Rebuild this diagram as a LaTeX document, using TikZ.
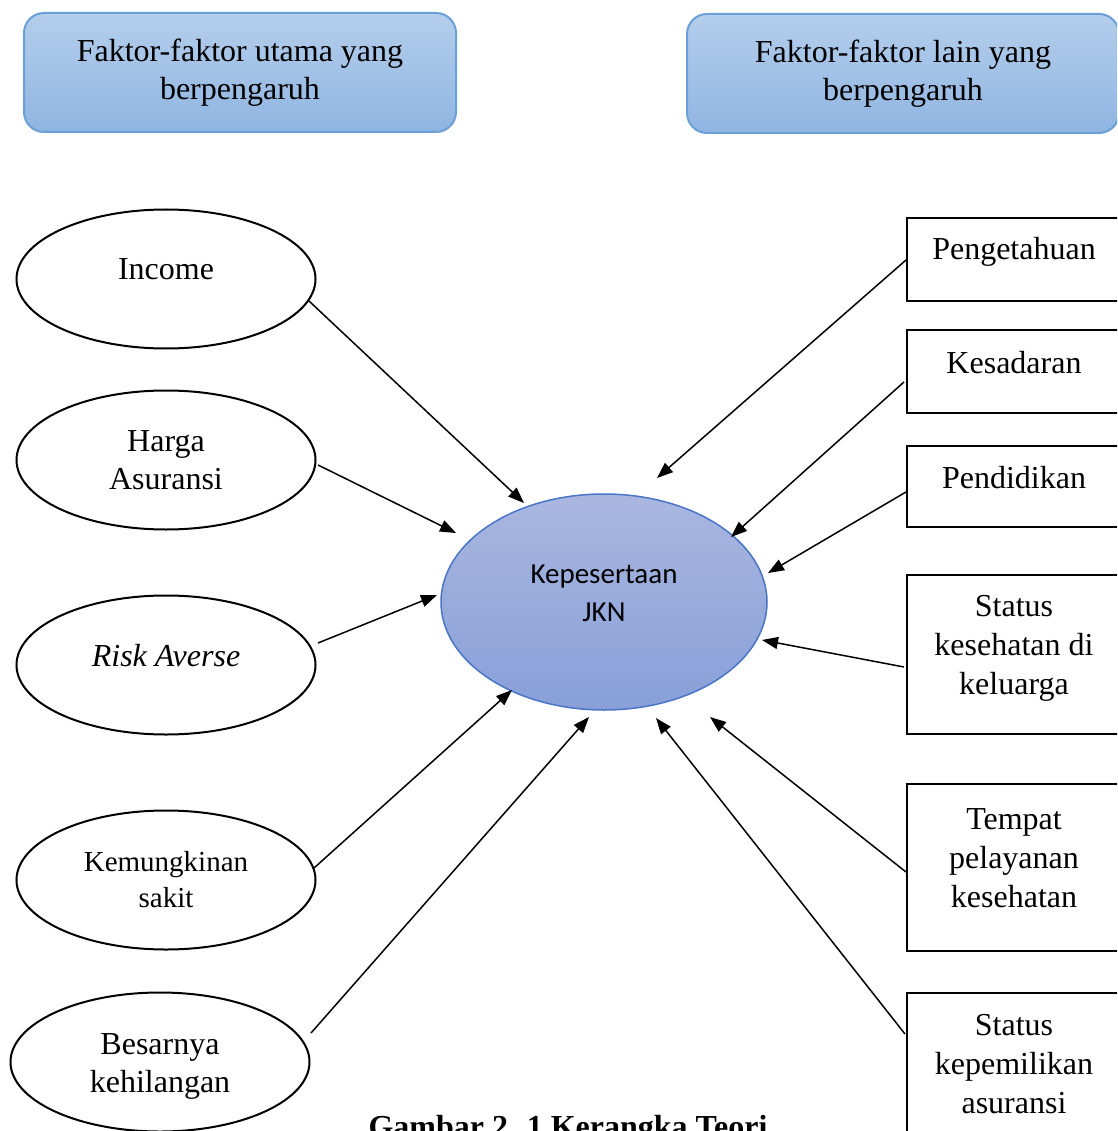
\documentclass[tikz,border=0pt]{standalone}
\usepackage{fontspec}
\setmainfont{Liberation Serif}
\newfontfamily\calib{Carlito}
\usetikzlibrary{arrows.meta,calc,shapes.geometric}
\definecolor{topborder}{HTML}{6A9FD8}
\definecolor{toptop}{HTML}{B4CEEB}
\definecolor{topbot}{HTML}{90B5E2}
\definecolor{cborder}{HTML}{4A74C6}
\definecolor{ctop}{HTML}{A9B7E0}
\definecolor{cbot}{HTML}{889FD8}
\tikzset{
  topbox/.style={draw=topborder, line width=2pt, rounded corners=20pt,
    top color=toptop, bottom color=topbot, minimum width=432pt,
    minimum height=119pt, align=center, font=\fontsize{32}{38}\selectfont},
  ell/.style={ellipse, draw, line width=2pt, minimum width=299pt,
    minimum height=139pt, inner sep=0pt, align=center,
    font=\fontsize{32}{38}\selectfont},
  rbox/.style={rectangle, draw, line width=2pt, minimum width=214pt, inner sep=0pt},
  rtext/.style={align=center, font=\fontsize{32}{39}\selectfont, inner sep=0pt},
  arr/.style={line width=1.5pt, -{Triangle[length=16pt,width=12pt]}}
}
\begin{document}
\begin{tikzpicture}[x=1pt,y=-1pt]
\useasboundingbox (0,0) rectangle (1117,1131);
\clip (0,0) rectangle (1117,1131);

% top boxes
\node[topbox] (tl) at (240,72.5) {Faktor-faktor utama yang\\berpengaruh};
\node[topbox] (tr) at (903,73.5) {Faktor-faktor lain yang\\berpengaruh};

% centre
\node[ellipse, draw=cborder, line width=1.5pt, top color=ctop, bottom color=cbot,
  minimum width=326pt, minimum height=216pt, inner sep=0pt, align=center,
  font=\calib\fontsize{29}{38}\selectfont] (c) at (604,602) {Kepesertaan\\JKN\\[-20pt]};

% left ellipses
\node[ell] (inc) at (166,279) {Income\\[-18pt]};
\node[ell] (har) at (166,460) {Harga\\Asuransi};
\node[ell] (risk) at (166,665) {\textit{Risk Averse}\\[-18pt]};
\node[ell, font=\fontsize{29}{36}\selectfont] (kem) at (166,880) {Kemungkinan\\sakit};
\node[ell] (bes) at (160,1062) {};
\node[align=center, font=\fontsize{32}{38}\selectfont, inner sep=0pt] (best) at (160,1066) {Besarnya\\kehilangan};

% right boxes
\node[rbox, minimum height=83pt] (pe) at (1014,259.5) {};
\node[rtext] (pet) at ([yshift=8pt]pe.center) {Pengetahuan};
\node[rbox, minimum height=83pt] (ks) at (1014,371.5) {};
\node[rtext] (kst) at ([yshift=9pt]ks.center) {Kesadaran};
\node[rbox, minimum height=81pt] (pd) at (1014,486.5) {};
\node[rtext] (pdt) at ([yshift=9pt]pd.center) {Pendidikan};
\node[rbox, minimum height=159pt] (sk) at (1014,654.5) {};
\node[rtext] (skt) at ([yshift=6pt]sk.center) {Status\\kesehatan di\\keluarga};
\node[rbox, minimum height=167pt] (tp) at (1014,867.5) {};
\node[rtext] (tpt) at ([yshift=9pt]tp.center) {Tempat\\pelayanan\\kesehatan};
\node[rbox, minimum height=180pt] (sa) at (1014,1083) {};
\node[rtext] (sat) at (1014,1064) {Status\\kepemilikan\\asuransi};

% caption
\node[anchor=base, font=\fontsize{32}{34}\selectfont\bfseries, inner sep=0pt] (cap) at (568,1137) {Gambar 2. 1 Kerangka Teori};

% arrows from left
\draw[arr] ($(inc.center)+(143,22)$) -- ($(c.center)+(-80,-99)$);
\draw[arr] ($(har.center)+(152,5)$) -- ($(c.center)+(-148,-69)$);
\draw[arr] ($(risk.center)+(152,-22)$) -- ($(c.center)+(-167,-7)$);
\draw[arr] ($(kem.center)+(148,-12)$) -- ($(c.center)+(-92,88)$);
\draw[arr] ($(bes.center)+(151,-29)$) -- ($(c.center)+(-15,115)$);

% arrows from right
\draw[arr] ($(pe.west)+(0,0.5)$) -- ($(c.center)+(53,-124)$);
\draw[arr] ($(ks.west)+(-2,10.5)$) -- ($(c.center)+(127,-65)$);
\draw[arr] ($(pd.west)+(0,5.5)$) -- ($(c.center)+(164,-29)$);
\draw[arr] ($(sk.west)+(-2,12.5)$) -- ($(c.center)+(158,38)$);
\draw[arr] ($(tp.west)+(0,4.5)$) -- ($(c.center)+(106,115)$);
\draw[arr] ($(sa.west)+(-1,-49)$) -- ($(c.center)+(52,116)$);
\end{tikzpicture}
\end{document}
